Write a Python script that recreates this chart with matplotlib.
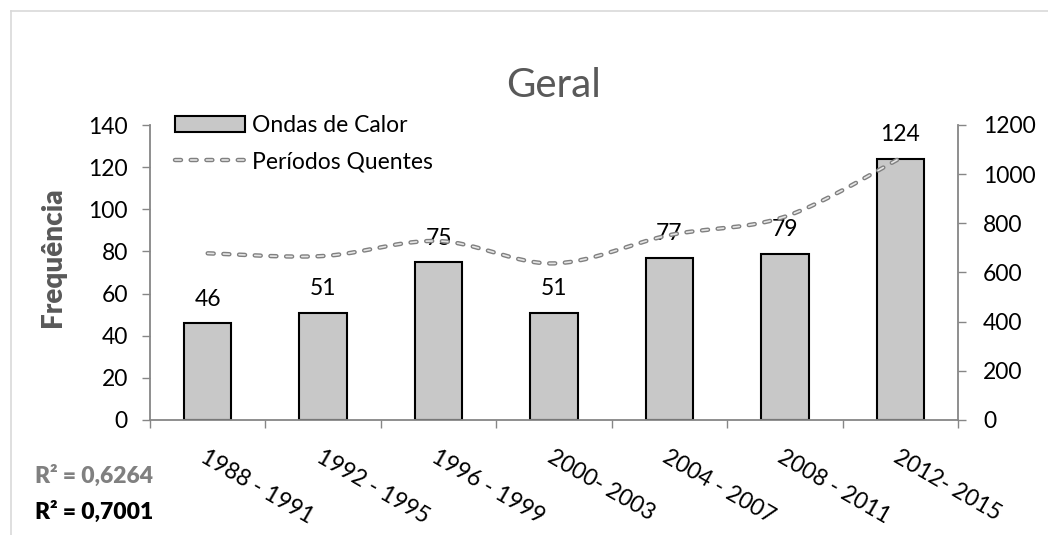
import matplotlib
matplotlib.use("Agg")
import matplotlib.pyplot as plt
import numpy as np
from matplotlib.legend_handler import HandlerTuple
from matplotlib.lines import Line2D

plt.rcParams['font.family'] = ['Lato', 'DejaVu Sans']
plt.rcParams['lines.scale_dashes'] = False

categories = ["1988 - 1991", "1992 - 1995", "1996 - 1999", "2000- 2003",
              "2004 - 2007", "2008 - 2011", "2012- 2015"]
ondas_calor = [46, 51, 75, 51, 77, 79, 124]
periodos_quentes = [678, 667, 728, 637, 752, 827, 1065]
left_ticks = [0, 20, 40, 60, 80, 100, 120, 140]
right_ticks = [0, 200, 400, 600, 800, 1000, 1200]
r2_texts = ["R² = 0,6264", "R² = 0,7001"]

W, H = 1048, 535
FS = 16.5
fig = plt.figure(figsize=(W / 100, H / 100), dpi=100)
fig.patch.set_facecolor('white')

def fx(px):
    return px / W

def fy(py):
    return 1 - py / H

ax = fig.add_axes([fx(150), fy(420), fx(958) - fx(150), fy(125) - fy(420)])
ax2 = ax.twinx()

x = np.arange(len(categories))
bars = ax.bar(x, ondas_calor, width=0.41, color='#c8c8c8', edgecolor='black',
              linewidth=1.5, zorder=2)
for xi, v in zip(x, ondas_calor):
    ax.annotate(str(v), (xi, v), xytext=(0, 12.5), textcoords='offset points',
                ha='center', va='baseline', fontsize=FS, color='black')

ax.set_xlim(-0.5, len(categories) - 0.5)
ax.set_ylim(0, 140)
ax.set_yticks(left_ticks)
ax2.set_ylim(0, 1200)
ax2.set_yticks(right_ticks)

# x ticks: boundaries as minor, labels as major
ax.set_xticks(np.arange(-0.5, len(categories), 1.0), minor=True)
ax.set_xticks(x)
ax.set_xticklabels(categories)
ax.tick_params(axis='x', which='major', length=0, pad=19, labelsize=FS)
ax.tick_params(axis='x', which='minor', length=6, width=1, color='#868686', direction='out')
for lab in ax.get_xticklabels():
    lab.set_rotation(-30)
    lab.set_ha('left')
    lab.set_va('top')
    lab.set_rotation_mode('anchor')

ax.tick_params(axis='y', length=6, width=1, color='#868686', pad=10, labelsize=FS)
ax2.tick_params(axis='y', length=6, width=1, color='#868686', pad=12, labelsize=FS)

for a in (ax, ax2):
    a.spines['top'].set_visible(False)
    for s in ('left', 'right', 'bottom'):
        a.spines[s].set_color('#868686')
        a.spines[s].set_linewidth(1.3)
ax.spines['right'].set_visible(False)
ax2.spines['left'].set_visible(False)
ax2.spines['bottom'].set_visible(False)

# smooth line (Bezier through the points, like Excel's smoothed line)
px = np.array(x, dtype=float)
py = np.array(periodos_quentes, dtype=float)
P = np.column_stack([px, py])
Pext = np.vstack([P[0], P, P[-1]])
curve = []
t = np.linspace(0, 1, 30)
for i in range(len(P) - 1):
    p0, p1, p2, p3 = Pext[i], Pext[i + 1], Pext[i + 2], Pext[i + 3]
    c1 = p1 + (p2 - p0) / 6.0
    c2 = p2 - (p3 - p1) / 6.0
    seg = ((1 - t) ** 3)[:, None] * p1 + (3 * (1 - t) ** 2 * t)[:, None] * c1 \
        + (3 * (1 - t) * t ** 2)[:, None] * c2 + (t ** 3)[:, None] * p2
    curve.append(seg if i == 0 else seg[1:])
curve = np.vstack(curve)

dash = (0, (4.3, 7.0))
OUT_C, IN_C = '#808080', '#e6e6e6'
OUT_W, IN_W = 3.2, 1.2
ax2.plot(curve[:, 0], curve[:, 1], color=OUT_C, lw=OUT_W,
         linestyle=dash, dash_capstyle='round', zorder=3)
ax2.plot(curve[:, 0], curve[:, 1], color=IN_C, lw=IN_W,
         linestyle=dash, dash_capstyle='round', zorder=4)

# legend
h_outer = Line2D([], [], color=OUT_C, lw=OUT_W, linestyle=dash, dash_capstyle='round')
h_inner = Line2D([], [], color=IN_C, lw=IN_W, linestyle=dash, dash_capstyle='round')
leg = ax2.legend([bars, (h_outer, h_inner)], ["Ondas de Calor", "Períodos Quentes"],
                 handler_map={tuple: HandlerTuple(ndivide=1, pad=0)},
                 loc='upper left', bbox_to_anchor=(fx(175), fy(115)),
                 bbox_transform=fig.transFigure, frameon=False, fontsize=FS,
                 borderpad=0, borderaxespad=0, handlelength=3.05, handleheight=0.66,
                 handletextpad=0.3, labelspacing=0.66)

# title
fig.text(fx(554), fy(97), "Geral", ha='center', va='baseline', fontsize=29,
         color='#595959')

# y label
fig.text(fx(53), fy(257), "Frequência", rotation=90, ha='center', va='center',
         fontsize=20, fontweight='heavy', color='#595959')

# R² texts
fig.text(fx(35), fy(483), r2_texts[0], ha='left', va='baseline', fontsize=16.5,
         fontweight='heavy', color='#808080')
fig.text(fx(35), fy(519), r2_texts[1], ha='left', va='baseline', fontsize=16.5,
         fontweight='heavy', color='black')

# chart border
fig.add_artist(Line2D([fx(11), fx(11)], [fy(11), 0], transform=fig.transFigure,
                      color='#d9d9d9', lw=1.2))
fig.add_artist(Line2D([fx(11), 1], [fy(11), fy(11)], transform=fig.transFigure,
                      color='#d9d9d9', lw=1.2))

fig.savefig("out.png", dpi=100, facecolor='white')
